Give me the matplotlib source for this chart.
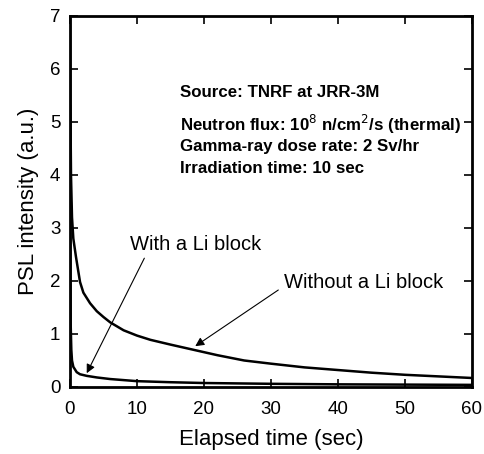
import matplotlib
matplotlib.use("Agg")
import matplotlib.pyplot as plt

plt.rcParams['font.family'] = ['Liberation Sans', 'DejaVu Sans']

# PSL decay after irradiation
t_without = [0, 0.05, 0.15, 0.3, 0.5, 0.9, 1.5, 2, 3, 4, 5, 6, 8, 10, 12, 15,
             18.5, 22, 26, 30, 35, 40, 45, 50, 55, 60]
psl_without = [7.2, 5.5, 4.0, 3.2, 2.8, 2.45, 1.98, 1.78, 1.58, 1.43, 1.32, 1.22,
               1.07, 0.97, 0.89, 0.80, 0.70, 0.60, 0.50, 0.44, 0.37, 0.32, 0.27,
               0.23, 0.20, 0.17]

t_with = [0, 0.05, 0.1, 0.2, 0.3, 0.5, 1, 1.5, 2.5, 4, 6, 10, 15, 20, 30, 40, 50, 60]
psl_with = [5.3, 2.5, 1.2, 0.7, 0.5, 0.38, 0.28, 0.24, 0.21, 0.18, 0.15, 0.11,
            0.09, 0.075, 0.06, 0.05, 0.045, 0.04]

x_ticks = [0, 10, 20, 30, 40, 50, 60]
y_ticks = [0, 1, 2, 3, 4, 5, 6, 7]

fig = plt.figure(figsize=(4.84, 4.54), dpi=100)
ax = fig.add_axes([0.1446, 0.1476, 0.8304, 0.8172])

ax.plot(t_without, psl_without, color='black', lw=1.8)
ax.plot(t_with, psl_with, color='black', lw=1.8)

ax.set_xlim(0, 60)
ax.set_ylim(0, 7)
ax.set_xticks(x_ticks)
ax.set_yticks(y_ticks)
ax.tick_params(direction='in', top=True, right=True, length=6, width=1.2,
               labelsize=13.5)
ax.tick_params(axis='x', pad=10)
ax.tick_params(axis='y', pad=7)
for s in ax.spines.values():
    s.set_linewidth(2)

ax.set_xlabel('Elapsed time (sec)', fontsize=16, labelpad=8)
ax.set_ylabel('PSL intensity (a.u.)', fontsize=16, labelpad=8)

info = ['Source: TNRF at JRR-3M',
        r'Neutron flux: 10$^{8}$ n/cm$^{2}$/s (thermal)',
        'Gamma-ray dose rate: 2 Sv/hr',
        'Irradiation time: 10 sec']
info_y = [5.55, 4.95, 4.53, 4.13]
for txt, yy in zip(info, info_y):
    ax.text(16.4, yy, txt, fontsize=12.2, fontweight='bold', va='center', ha='left')

ax.text(18.7, 2.68, 'With a Li block', fontsize=14.5, ha='center', va='center')
ax.text(43.9, 1.98, 'Without a Li block', fontsize=14.5, ha='center', va='center')

arrow_style = dict(arrowstyle='-|>', color='black', lw=0.8,
                   mutation_scale=13, shrinkA=0, shrinkB=0)
ax.annotate('', xy=(2.5, 0.26), xytext=(11.1, 2.43), arrowprops=arrow_style)
ax.annotate('', xy=(18.7, 0.77), xytext=(31.1, 1.83), arrowprops=arrow_style)

fig.savefig('out.png', dpi=100)
